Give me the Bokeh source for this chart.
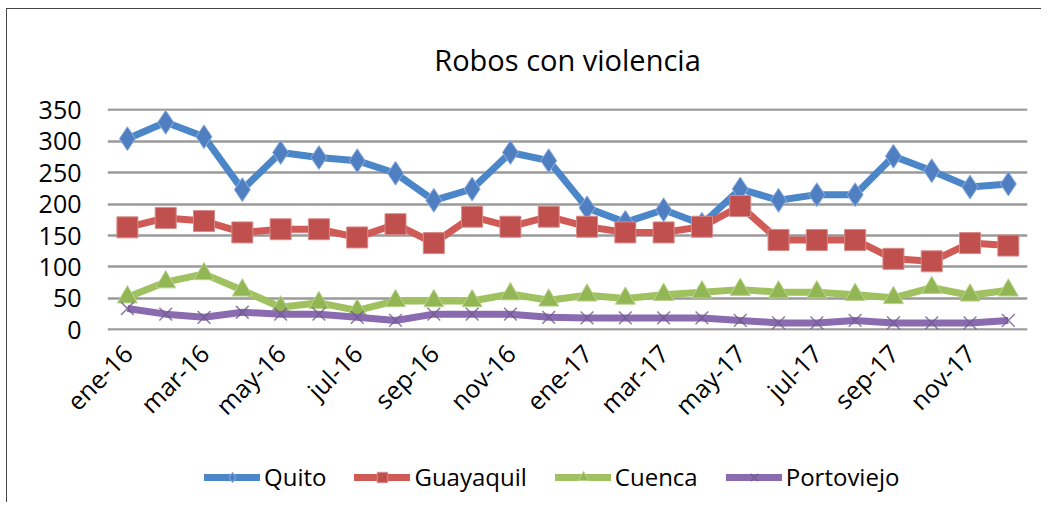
import math
from bokeh.plotting import figure
from bokeh.layouts import column
from bokeh.models import ColumnDataSource, Legend, LegendItem, FixedTicker, Range1d
from bokeh.embed import file_html
from bokeh.resources import INLINE

months = ["ene-16", "feb-16", "mar-16", "abr-16", "may-16", "jun-16", "jul-16", "ago-16",
          "sep-16", "oct-16", "nov-16", "dic-16", "ene-17", "feb-17", "mar-17", "abr-17",
          "may-17", "jun-17", "jul-17", "ago-17", "sep-17", "oct-17", "nov-17", "dic-17"]
quito = [304, 330, 307, 223, 282, 274, 269, 249, 206, 224, 282, 269,
         194, 171, 191, 168, 224, 206, 215, 215, 276, 253, 227, 232]
guayaquil = [163, 178, 173, 155, 160, 160, 147, 168, 138, 180, 164, 180,
             164, 155, 155, 164, 197, 143, 143, 143, 113, 109, 138, 134]
cuenca = [52, 76, 89, 63, 36, 43, 31, 46, 46, 46, 57, 47,
          55, 50, 56, 60, 64, 60, 60, 56, 51, 67, 55, 63]
portoviejo = [34, 25, 20, 28, 25, 25, 20, 15, 25, 25, 25, 20,
              19, 19, 19, 19, 15, 11, 11, 15, 11, 11, 11, 15]
y_ticks = [0, 50, 100, 150, 200, 250, 300, 350]
series_names = ["Quito", "Guayaquil", "Cuenca", "Portoviejo"]

FONT = "Open Sans"
x = list(range(len(months)))

p = figure(frame_width=920, frame_height=222, output_backend="svg", toolbar_location=None,
           x_range=Range1d(-0.52, 23.5), y_range=Range1d(-1, 352),
           min_border_left=100, min_border_right=14, min_border_top=99,
           min_border_bottom=110)
p.outline_line_color = None
p.background_fill_color = "white"
p.border_fill_color = "white"

p.title.text = "Robos con violencia"
p.title.align = "center"
p.title.vertical_align = "middle"
p.title.text_font = FONT
p.title.text_font_size = "29px"
p.title.text_font_style = "normal"
p.title.text_color = "black"
p.title.standoff = 57

p.xgrid.grid_line_color = None
p.ygrid.grid_line_color = "#9a9a9a"
p.ygrid.grid_line_width = 2.5
p.yaxis.ticker = FixedTicker(ticks=y_ticks)
p.xaxis.ticker = FixedTicker(ticks=x[::2])
p.xaxis.major_label_overrides = {i: m for i, m in enumerate(months)}
p.xaxis.major_label_orientation = math.pi / 4
for ax in (p.xaxis, p.yaxis):
    ax.axis_line_color = None
    ax.major_tick_line_color = None
    ax.minor_tick_line_color = None
    ax.major_label_text_font = FONT
    ax.major_label_text_color = "black"
p.yaxis.major_label_text_font_size = "25px"
p.yaxis.major_label_standoff = 20
p.xaxis.major_label_text_font_size = "25px"
p.xaxis.major_label_standoff = 12

src = ColumnDataSource(dict(x=x, quito=quito, guayaquil=guayaquil, cuenca=cuenca, portoviejo=portoviejo))
# a single point outside the legend figure's ranges so legend glyphs can render
offscreen = ColumnDataSource(dict(x=[-10], y=[-10]))

# legend figure (below the chart)
p2 = figure(width=1034, height=62, output_backend="svg", toolbar_location=None,
            x_range=Range1d(0, 1), y_range=Range1d(0, 1),
            x_axis_location=None, y_axis_location=None,
            min_border_left=0, min_border_right=0, min_border_top=0, min_border_bottom=0)
p2.grid.grid_line_color = None
p2.outline_line_color = None
p2.border_fill_color = "white"

styles = [
    ("quito", "#4a86c8", "diamond", 24, "#4f7fc0", "#8fb0e0"),
    ("guayaquil", "#d05a55", "square", 21, "#c0504d", "#d88a88"),
    ("cuenca", "#9fc160", "triangle", 20, "#93b655", "#b9d38d"),
    ("portoviejo", "#8a6bb0", "x", 18, "#6e5a8e", "#6e5a8e"),
]
items = []
for name, (col, lc, mk, sz, fc, ec) in zip(series_names, styles):
    p.line("x", col, source=src, line_color=lc, line_width=7, line_join="round")
    if mk == "x":
        kw = dict(marker="x", size=sz, line_color=ec, line_width=1.5, line_alpha=0.8)
    else:
        kw = dict(marker=mk, size=sz, fill_color=fc, line_color=ec, line_width=1)
    p.scatter("x", col, source=src, **kw)
    l2 = p2.line("x", "y", source=offscreen, line_color=lc, line_width=7, line_cap="round")
    m2 = p2.scatter("x", "y", source=offscreen, **kw)
    items.append(LegendItem(label=name, renderers=[l2, m2]))

legend = Legend(items=items, orientation="horizontal", location=(97, 9),
                label_text_font=FONT, label_text_font_size="24px", label_text_color="black",
                glyph_width=56, glyph_height=26, spacing=28, label_standoff=4,
                border_line_color=None, background_fill_alpha=0, margin=0, padding=0)
p2.add_layout(legend, "center")

layout = column(p, p2, spacing=0,
                styles={"border-left": "1px solid #444", "border-top": "1px solid #444",
                        "margin-left": "6px", "margin-top": "8px"})

open("out.html", "w").write(file_html(layout, INLINE))
